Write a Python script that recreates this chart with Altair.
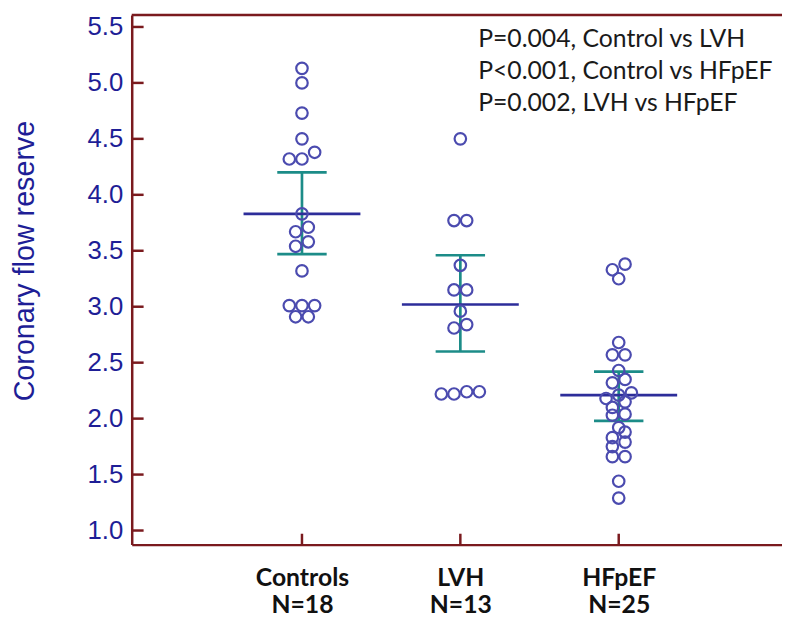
import altair as alt
import pandas as pd

# ---- data ----
groups = ["Controls", "LVH", "HFpEF"]
group_n = ["N=18", "N=13", "N=25"]
controls = [5.13, 5.00, 4.73, 4.50, 4.38, 4.32, 4.32, 3.83, 3.71, 3.67, 3.58,
            3.54, 3.32, 3.01, 3.01, 3.01, 2.91, 2.91]
lvh = [4.50, 3.77, 3.77, 3.37, 3.15, 3.15, 2.96, 2.84, 2.81, 2.24, 2.24, 2.22, 2.22]
hfpef = [3.38, 3.33, 3.25, 2.68, 2.57, 2.57, 2.43, 2.35, 2.32, 2.23, 2.21, 2.18,
         2.15, 2.10, 2.04, 2.03, 1.92, 1.88, 1.83, 1.79, 1.75, 1.66, 1.66, 1.44, 1.29]
means = [3.83, 3.02, 2.21]
ci_low = [3.47, 2.60, 1.98]
ci_high = [4.20, 3.46, 2.42]
y_ticks = [1.0, 1.5, 2.0, 2.5, 3.0, 3.5, 4.0, 4.5, 5.0, 5.5]
p_lines = ["P=0.004, Control vs LVH",
           "P<0.001, Control vs HFpEF",
           "P=0.002, LVH vs HFpEF"]

# ---- styling ----
FRAME = "#7A1A1E"
NAVY = "#1E1E96"
PT = "#4B4BAF"
MEAN = "#2D2D9A"
TEAL = "#1C8C88"
W, H = 657, 535


def swarm(values, center, step=0.08, tol=0.068):
    """Spread near-equal values side by side (dot-plot layout)."""
    vals = sorted(values)
    rows = []
    for v in vals:
        if rows and v - rows[-1][0] < tol:
            rows[-1].append(v)
        else:
            rows.append([v])
    out = []
    for row in rows:
        n = len(row)
        for i, v in enumerate(row):
            out.append((center + (i - (n - 1) / 2) * step, v))
    return out


recs = []
for gi, vals in enumerate([controls, lvh, hfpef], start=1):
    for x, v in swarm(vals, gi):
        recs.append({"x": x, "cfr": v})
pts = pd.DataFrame(recs)

idx = [1, 2, 3]
mean_df = pd.DataFrame({"x": [i - 0.369 for i in idx], "x2": [i + 0.369 for i in idx], "cfr": means})
ci_df = pd.DataFrame({"x": idx, "cfr": ci_low, "cfr2": ci_high})
cap_df = pd.DataFrame({"x": [i - 0.156 for i in idx] * 2, "x2": [i + 0.156 for i in idx] * 2,
                       "cfr": ci_low + ci_high})
ytick_df = pd.DataFrame({"cfr": y_ticks})
xtick_df = pd.DataFrame({"x": idx})

label_expr = " : ".join(
    f"datum.value == {i} ? ['{g}', '{n}']" for i, g, n in zip(idx, groups, group_n)
) + " : ''"

xs = alt.Scale(domain=[-0.075, 4.031], nice=False, zero=False)
ys = alt.Scale(domain=[0.874, 5.606], nice=False, zero=False)

x_axis = alt.Axis(values=idx, labelExpr=label_expr, title=None, ticks=False, tickSize=0,
                  grid=False, domainColor=FRAME, domainWidth=2.5, labelFont="Lato",
                  labelFontWeight="bold", labelFontSize=25, labelColor="#111111",
                  labelBaseline="top", labelPadding=21, labelLineHeight=28,
                  labelFlush=False, labelOverlap=False)
y_axis = alt.Axis(values=y_ticks, format=".1f", title="Coronary flow reserve", ticks=False,
                  tickSize=0, grid=False, domainColor=FRAME, domainWidth=2.5,
                  labelFont="Liberation Sans", labelFontSize=26, labelColor=NAVY,
                  labelPadding=9, labelFlush=False, labelOverlap=False,
                  titleFont="Liberation Sans", titleFontSize=29, titleFontWeight="normal",
                  titleColor=NAVY, titleAngle=270, titleBaseline="alphabetic",
                  titleX=-99, titleY=248)

X = alt.X("x:Q", scale=xs, axis=x_axis)
Y = alt.Y("cfr:Q", scale=ys, axis=y_axis)

ci_line = alt.Chart(ci_df).mark_rule(color=TEAL, strokeWidth=2.7).encode(
    x=X, y=Y, y2=alt.Y2("cfr2:Q"))
caps = alt.Chart(cap_df).mark_rule(color=TEAL, strokeWidth=2.7).encode(
    x=X, x2=alt.X2("x2:Q"), y=Y)
mean_line = alt.Chart(mean_df).mark_rule(color=MEAN, strokeWidth=2.7).encode(
    x=X, x2=alt.X2("x2:Q"), y=Y)
points = alt.Chart(pts).mark_point(shape="circle", filled=False, size=135, strokeWidth=2.2,
                                   color=PT, opacity=1).encode(x=X, y=Y)
yticks = alt.Chart(ytick_df).mark_rule(color=FRAME, strokeWidth=2.5).encode(
    y=Y, x=alt.value(0), x2=alt.value(12))
xticks = alt.Chart(xtick_df).mark_rule(color=FRAME, strokeWidth=2.5).encode(
    x=X, y=alt.value(H), y2=alt.value(H - 11))
top_frame = alt.Chart(alt.Data(values=[{}])).mark_rule(color=FRAME, strokeWidth=2.5).encode(
    x=alt.value(0), x2=alt.value(W), y=alt.value(0))
ptext = alt.Chart(alt.Data(values=[{}])).mark_text(
    text=p_lines, align="left", baseline="alphabetic", font="Lato", fontSize=25,
    lineHeight=32.5, color="#1A1A1A").encode(x=alt.value(350), y=alt.value(32))

chart = alt.layer(ci_line, caps, mean_line, points, yticks, xticks, top_frame, ptext).properties(
    width=W, height=H,
    autosize=alt.AutoSizeParams(type="none"),
    padding={"left": 125, "top": 4, "right": 0, "bottom": 74},
).configure_view(stroke=None)

chart.save("out.html", embed_options={"renderer": "svg", "actions": False})
